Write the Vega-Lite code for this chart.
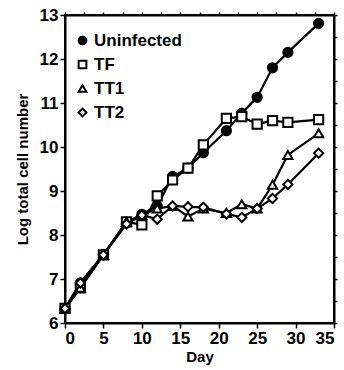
{
  "$schema": "https://vega.github.io/schema/vega-lite/v6.json",
  "width": 269,
  "height": 308,
  "autosize": "none",
  "padding": {"left": 65, "top": 15, "right": 10, "bottom": 47},
  "background": "white",
  "config": {
    "font": "Liberation Sans",
    "view": {"stroke": "black", "strokeWidth": 2},
    "axis": {"domainColor": "black", "domainWidth": 2, "tickColor": "black", "tickWidth": 1.5, "grid": false,
             "labelFont": "Liberation Sans", "labelFontSize": 17, "labelFontWeight": "bold", "labelColor": "black",
             "titleFont": "Liberation Sans", "titleFontSize": 15, "titleFontWeight": "bold", "titleColor": "black"}
  },
  "data": {"values": [
    {"series": "Uninfected", "day": 0, "v": 6.33}, {"series": "Uninfected", "day": 2, "v": 6.91}, {"series": "Uninfected", "day": 5, "v": 7.55},
    {"series": "Uninfected", "day": 8, "v": 8.28}, {"series": "Uninfected", "day": 10, "v": 8.47}, {"series": "Uninfected", "day": 12, "v": 8.66},
    {"series": "Uninfected", "day": 14, "v": 9.33}, {"series": "Uninfected", "day": 16, "v": 9.52}, {"series": "Uninfected", "day": 18, "v": 9.87},
    {"series": "Uninfected", "day": 21, "v": 10.37}, {"series": "Uninfected", "day": 23, "v": 10.77}, {"series": "Uninfected", "day": 25, "v": 11.13},
    {"series": "Uninfected", "day": 27, "v": 11.8}, {"series": "Uninfected", "day": 29, "v": 12.15}, {"series": "Uninfected", "day": 33, "v": 12.81},
    {"series": "TF", "day": 0, "v": 6.33}, {"series": "TF", "day": 2, "v": 6.8}, {"series": "TF", "day": 5, "v": 7.55},
    {"series": "TF", "day": 8, "v": 8.3}, {"series": "TF", "day": 10, "v": 8.23}, {"series": "TF", "day": 12, "v": 8.89},
    {"series": "TF", "day": 14, "v": 9.25}, {"series": "TF", "day": 16, "v": 9.52}, {"series": "TF", "day": 18, "v": 10.05},
    {"series": "TF", "day": 21, "v": 10.65}, {"series": "TF", "day": 23, "v": 10.69}, {"series": "TF", "day": 25, "v": 10.52},
    {"series": "TF", "day": 27, "v": 10.6}, {"series": "TF", "day": 29, "v": 10.56}, {"series": "TF", "day": 33, "v": 10.62},
    {"series": "TT1", "day": 0, "v": 6.33}, {"series": "TT1", "day": 2, "v": 6.8}, {"series": "TT1", "day": 5, "v": 7.55},
    {"series": "TT1", "day": 8, "v": 8.3}, {"series": "TT1", "day": 10, "v": 8.45}, {"series": "TT1", "day": 12, "v": 8.6},
    {"series": "TT1", "day": 14, "v": 8.66}, {"series": "TT1", "day": 16, "v": 8.42}, {"series": "TT1", "day": 18, "v": 8.6},
    {"series": "TT1", "day": 21, "v": 8.5}, {"series": "TT1", "day": 23, "v": 8.7}, {"series": "TT1", "day": 25, "v": 8.6},
    {"series": "TT1", "day": 27, "v": 9.14}, {"series": "TT1", "day": 29, "v": 9.82}, {"series": "TT1", "day": 33, "v": 10.31},
    {"series": "TT2", "day": 0, "v": 6.33}, {"series": "TT2", "day": 2, "v": 6.91}, {"series": "TT2", "day": 5, "v": 7.55},
    {"series": "TT2", "day": 8, "v": 8.25}, {"series": "TT2", "day": 10, "v": 8.45}, {"series": "TT2", "day": 12, "v": 8.36},
    {"series": "TT2", "day": 14, "v": 8.66}, {"series": "TT2", "day": 16, "v": 8.64}, {"series": "TT2", "day": 18, "v": 8.63},
    {"series": "TT2", "day": 21, "v": 8.48}, {"series": "TT2", "day": 23, "v": 8.4}, {"series": "TT2", "day": 25, "v": 8.6},
    {"series": "TT2", "day": 27, "v": 8.83}, {"series": "TT2", "day": 29, "v": 9.15}, {"series": "TT2", "day": 33, "v": 9.86}
  ]},
  "layer": [
    {
      "mark": {"type": "line", "color": "black", "strokeWidth": 2.2},
      "encoding": {
        "x": {"field": "day", "type": "quantitative", "scale": {"domain": [0, 35], "nice": false},
              "axis": {"title": "Day", "values": [0, 5, 10, 15, 20, 25, 30, 35], "tickSize": 5, "labelPadding": 2, "titlePadding": 3}},
        "y": {"field": "v", "type": "quantitative", "scale": {"domain": [6, 13], "nice": false, "zero": false},
              "axis": {"title": "Log total cell number", "values": [6, 7, 8, 9, 10, 11, 12, 13], "tickSize": 5, "labelPadding": 2, "titlePadding": 9}},
        "detail": {"field": "series"}
      }
    },
    {
      "mark": {"type": "point", "stroke": "black", "strokeWidth": 2, "size": 85, "opacity": 1, "filled": true},
      "encoding": {
        "x": {"field": "day", "type": "quantitative",
              "axis": {"orient": "top", "title": null, "labels": false, "values": [0, 2.5, 5, 7.5, 10, 12.5, 15, 17.5, 20, 22.5, 25, 27.5, 30, 32.5, 35], "tickSize": 3}},
        "y": {"field": "v", "type": "quantitative",
              "axis": {"orient": "right", "title": null, "labels": false, "values": [6, 6.5, 7, 7.5, 8, 8.5, 9, 9.5, 10, 10.5, 11, 11.5, 12, 12.5, 13], "tickSize": 3}},
        "shape": {"field": "series", "type": "nominal",
                  "scale": {"domain": ["Uninfected", "TF", "TT1", "TT2"], "range": ["circle", "square", "triangle-up", "diamond"]},
                  "legend": {"title": null, "orient": "none", "legendX": 9, "legendY": 17, "labelFontSize": 17, "labelFontWeight": "bold", "labelFont": "Liberation Sans",
                             "labelColor": "black", "symbolSize": 60, "symbolStrokeWidth": 2, "symbolStrokeColor": "black", "rowPadding": 6, "labelOffset": 3,
                             "symbolOpacity": 1,
                             "encode": {"symbols": {"update": {"stroke": {"value": "black"}, "strokeWidth": {"value": 2}}}}}},
        "fill": {"field": "series", "type": "nominal",
                 "scale": {"domain": ["Uninfected", "TF", "TT1", "TT2"], "range": ["black", "white", "white", "white"]},
                 "legend": {"title": null, "orient": "none", "legendX": 9, "legendY": 17, "labelFontSize": 17, "labelFontWeight": "bold", "labelFont": "Liberation Sans",
                            "labelColor": "black", "symbolSize": 60, "symbolStrokeWidth": 2, "symbolStrokeColor": "black", "rowPadding": 6, "labelOffset": 3,
                            "symbolOpacity": 1,
                            "encode": {"symbols": {"update": {"stroke": {"value": "black"}, "strokeWidth": {"value": 2}}}}}}
      }
    }
  ],
  "resolve": {"axis": {"x": "independent", "y": "independent"}}
}
